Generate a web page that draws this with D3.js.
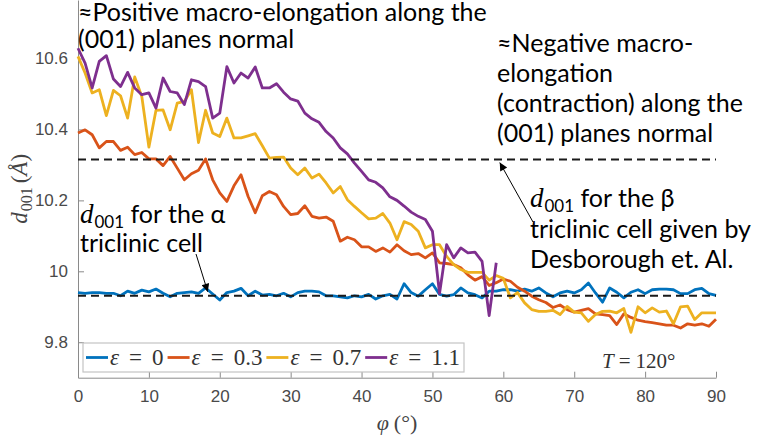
<!DOCTYPE html>
<html>
<head>
<meta charset="utf-8">
<script src="https://cdn.jsdelivr.net/npm/d3@7"></script>
<style>
  html, body { margin: 0; padding: 0; background: #fff; }
  svg { display: block; }
</style>
</head>
<body>
<svg id="chart" width="765" height="443"></svg>
<script>
// Rotation angle φ in degrees (one sample per degree)
const phiDeg = d3.range(0, 91);

// d001 spacing (Å) for each strain level
const eps0 = [9.940, 9.938, 9.940, 9.940, 9.938, 9.938, 9.931, 9.944, 9.938, 9.947,
  9.942, 9.950, 9.938, 9.928, 9.938, 9.940, 9.942, 9.938, 9.953, 9.936,
  9.919, 9.940, 9.944, 9.952, 9.931, 9.944, 9.933, 9.935, 9.931, 9.938,
  9.928, 9.940, 9.944, 9.944, 9.942, 9.931, 9.931, 9.928, 9.925, 9.931,
  9.928, 9.935, 9.922, 9.931, 9.935, 9.922, 9.965, 9.940, 9.930, 9.948,
  9.965, 9.935, 9.930, 9.934, 9.953, 9.939, 9.934, 9.925, 9.944, 9.944,
  9.948, 9.948, 9.944, 9.950, 9.944, 9.953, 9.939, 9.928, 9.939, 9.944,
  9.939, 9.948, 9.967, 9.939, 9.913, 9.953, 9.941, 9.925, 9.941, 9.948,
  9.937, 9.948, 9.950, 9.950, 9.948, 9.937, 9.937, 9.948, 9.952, 9.937, 9.932];

const eps03 = [10.390, 10.399, 10.385, 10.348, 10.366, 10.366, 10.341, 10.350, 10.329, 10.335,
  10.317, 10.317, 10.298, 10.324, 10.291, 10.258, 10.275, 10.285, 10.317, 10.258,
  10.221, 10.197, 10.241, 10.272, 10.211, 10.165, 10.213, 10.225, 10.216, 10.183,
  10.160, 10.163, 10.185, 10.155, 10.150, 10.153, 10.141, 10.085, 10.096, 10.089,
  10.069, 10.069, 10.056, 10.066, 10.054, 10.075, 10.058, 10.047, 10.050, 10.038,
  10.052, 10.024, 10.022, 10.019, 10.010, 9.990, 9.975, 9.985, 9.960, 9.968,
  9.978, 9.972, 9.955, 9.944, 9.930, 9.920, 9.912, 9.898, 9.905, 9.892,
  9.885, 9.890, 9.895, 9.880, 9.878, 9.875, 9.850, 9.880, 9.870, 9.862,
  9.858, 9.855, 9.852, 9.848, 9.848, 9.840, 9.852, 9.848, 9.852, 9.845, 9.865];

const eps07 = [10.606, 10.559, 10.503, 10.512, 10.439, 10.510, 10.495, 10.432, 10.548, 10.493,
  10.350, 10.454, 10.455, 10.399, 10.474, 10.479, 10.512, 10.363, 10.454, 10.390,
  10.380, 10.432, 10.376, 10.376, 10.382, 10.388, 10.354, 10.319, 10.321, 10.322,
  10.291, 10.272, 10.291, 10.263, 10.274, 10.249, 10.221, 10.239, 10.202, 10.183,
  10.165, 10.148, 10.150, 10.163, 10.136, 10.089, 10.140, 10.132, 10.113, 10.066,
  10.075, 10.075, 10.042, 10.019, 10.005, 9.997, 9.997, 9.997, 9.975, 9.988,
  9.980, 9.925, 9.940, 9.911, 9.892, 9.887, 9.887, 9.890, 9.878, 9.901,
  9.885, 9.883, 9.859, 9.878, 9.887, 9.888, 9.883, 9.895, 9.828, 9.900,
  9.883, 9.897, 9.885, 9.888, 9.852, 9.900, 9.902, 9.864, 9.883, 9.883, 9.883];

const eps11 = [10.629, 10.587, 10.517, 10.592, 10.608, 10.542, 10.521, 10.561, 10.517, 10.498,
  10.503, 10.460, 10.545, 10.507, 10.503, 10.470, 10.540, 10.535, 10.521, 10.432,
  10.446, 10.577, 10.531, 10.559, 10.545, 10.576, 10.517, 10.517, 10.529, 10.505,
  10.486, 10.480, 10.446, 10.430, 10.420, 10.394, 10.376, 10.348, 10.331, 10.305,
  10.282, 10.258, 10.251, 10.235, 10.210, 10.200, 10.184, 10.167, 10.155, 10.146,
  10.113, 9.937, 10.075, 10.038, 10.066, 10.052, 10.054, 10.028, 9.875, 10.024];

const seriesNames = ["0", "0.3", "0.7", "1.1"];
const seriesColors = ["#0072BD", "#D95319", "#EDB120", "#7E2F8E"];
const seriesValues = [eps0, eps03, eps07, eps11];

// Reference spacings of the two triclinic cells
const dAlpha = 9.931;
const dBeta = 10.315;

const xTicks = [0, 10, 20, 30, 40, 50, 60, 70, 80, 90];
const yTicks = [9.8, 10, 10.2, 10.4, 10.6];

const svg = d3.select("#chart");
const x = d3.scaleLinear().domain([0, 90]).range([78, 716]);
const y = d3.scaleLinear().domain([9.7, 10.765]).range([377.7, 0]);

const axisColor = "#8a8a8a";
const tickText = "#4a4a4a";

// axes (ticks drawn inward)
const gx = svg.append("g").attr("transform", `translate(0,${y(9.7)})`)
  .call(d3.axisBottom(x).tickValues(xTicks).tickSize(-6).tickPadding(12).tickSizeOuter(0).tickFormat(d3.format("d")));
const gy = svg.append("g").attr("transform", `translate(${x(0)},0)`)
  .call(d3.axisLeft(y).tickValues(yTicks).tickSize(-6).tickPadding(10).tickSizeOuter(0).tickFormat(d => d === 10 ? "10" : d3.format(".1f")(d)));
[gx, gy].forEach(g => {
  g.select(".domain").attr("stroke", axisColor).attr("stroke-width", 1);
  g.selectAll(".tick line").attr("stroke", axisColor);
  g.selectAll(".tick text").attr("fill", tickText)
    .style("font-family", "'Liberation Sans', Arial, sans-serif").style("font-size", "17px");
});

// series lines
const line = d3.line().x((d, i) => x(phiDeg[i])).y(d => y(d));
seriesValues.forEach((vals, k) => {
  svg.append("path").datum(vals)
    .attr("fill", "none")
    .attr("stroke", seriesColors[k])
    .attr("stroke-width", 2.8)
    .attr("stroke-linejoin", "round")
    .attr("d", line);
});

// reference dashed lines
[dBeta, dAlpha].forEach(v => {
  svg.append("line")
    .attr("x1", x(0)).attr("x2", x(90))
    .attr("y1", y(v)).attr("y2", y(v))
    .attr("stroke", "#1a1a1a").attr("stroke-width", 2)
    .attr("stroke-dasharray", "8,5");
});

// axis labels
const serif = "'Liberation Serif', 'Times New Roman', serif";
const ylab = svg.append("text")
  .attr("transform", `translate(27,${(y(9.7) + y(10.765)) / 2}) rotate(-90)`)
  .attr("text-anchor", "middle")
  .style("font-family", serif).style("font-size", "23px").attr("fill", "#444");
ylab.append("tspan").style("font-style", "italic").text("d");
ylab.append("tspan").attr("dy", 5).attr("dx", 1).style("font-size", "16px").text("001");
ylab.append("tspan").attr("dy", -5).attr("dx", 4).text("(");
ylab.append("tspan").style("font-style", "italic").text("Å");
ylab.append("tspan").text(")");

const xlab = svg.append("text")
  .attr("x", (x(0) + x(90)) / 2).attr("y", 430)
  .attr("text-anchor", "middle")
  .style("font-family", serif).style("font-size", "22px").attr("fill", "#444");
xlab.append("tspan").style("font-style", "italic").text("φ");
xlab.append("tspan").attr("dx", 5).text("(°)");

// temperature note
const tnote = svg.append("text").attr("x", 602).attr("y", 368)
  .style("font-family", serif).style("font-size", "21px").attr("fill", "#333");
tnote.append("tspan").style("font-style", "italic").text("T");
tnote.append("tspan").attr("dx", 5).text("=");
tnote.append("tspan").attr("dx", 5).text("120°");

// legend
const leg = svg.append("g");
const legBox = leg.append("rect")
  .attr("x", 83).attr("y", 343).attr("height", 29)
  .attr("fill", "#fff").attr("stroke", "#c4c4c4").attr("stroke-width", 1.2);
let cx = 86;
seriesNames.forEach((name, k) => {
  leg.append("line").attr("x1", cx).attr("x2", cx + 22)
    .attr("y1", 357.5).attr("y2", 357.5)
    .attr("stroke", seriesColors[k]).attr("stroke-width", 2.8);
  const t = leg.append("text").attr("x", cx + 24).attr("y", 365)
    .style("font-family", serif).style("font-size", "23px").attr("fill", "#333");
  t.append("tspan").style("font-style", "italic").text("ε");
  t.append("tspan").attr("dx", 10).text("=");
  t.append("tspan").attr("dx", 10).text(name);
  cx += 24 + t.node().getBBox().width + 4;
});
legBox.attr("width", cx - 83);

// annotations
const sans = "Lato, 'Open Sans', sans-serif";
const annSize = "25px";
function block(x0, y0, lines, dy) {
  const t = svg.append("text").style("font-family", sans).style("font-size", annSize).attr("fill", "#000");
  lines.forEach((s, i) => t.append("tspan").attr("x", x0).attr("y", y0 + i * dy).text(s));
  return t;
}
block(78, 21, ["≈Positive macro-elongation along the", "(001) planes normal"], 27);
block(497, 52, ["≈Negative macro-", "elongation", "(contraction) along the", "(001) planes normal"], 30);

function dLabel(x0, y0, rest) {
  const t = svg.append("text").attr("x", x0).attr("y", y0)
    .style("font-family", sans).style("font-size", annSize).attr("fill", "#000");
  t.append("tspan").style("font-family", serif).style("font-style", "italic").style("font-size", "27px").text("d");
  t.append("tspan").attr("dy", 5).attr("dx", 1).style("font-size", "17px").text("001");
  t.append("tspan").attr("dy", -5).text(rest);
}
dLabel(80, 223, " for the α");
svg.append("text").attr("x", 80).attr("y", 252)
  .style("font-family", sans).style("font-size", annSize).text("triclinic cell");
dLabel(530, 207, " for the β");
block(530, 238, ["triclinic cell given by", "Desborough et. Al."], 30);

// arrows pointing to the dashed reference lines
svg.append("defs").append("marker")
  .attr("id", "head").attr("viewBox", "0 0 10 10")
  .attr("refX", 10).attr("refY", 5)
  .attr("markerWidth", 10).attr("markerHeight", 8)
  .attr("markerUnits", "userSpaceOnUse")
  .attr("orient", "auto")
  .append("path").attr("d", "M0,0 L10,5 L0,10 Z").attr("fill", "#000");
function arrow(x1, y1, x2, y2) {
  svg.append("line").attr("x1", x1).attr("y1", y1).attr("x2", x2).attr("y2", y2)
    .attr("stroke", "#000").attr("stroke-width", 1).attr("marker-end", "url(#head)");
}
arrow(196, 254, x(18.3), y(dAlpha) - 4);
arrow(533, 222, x(59.5), y(dBeta) + 3);
</script>
</body>
</html>
